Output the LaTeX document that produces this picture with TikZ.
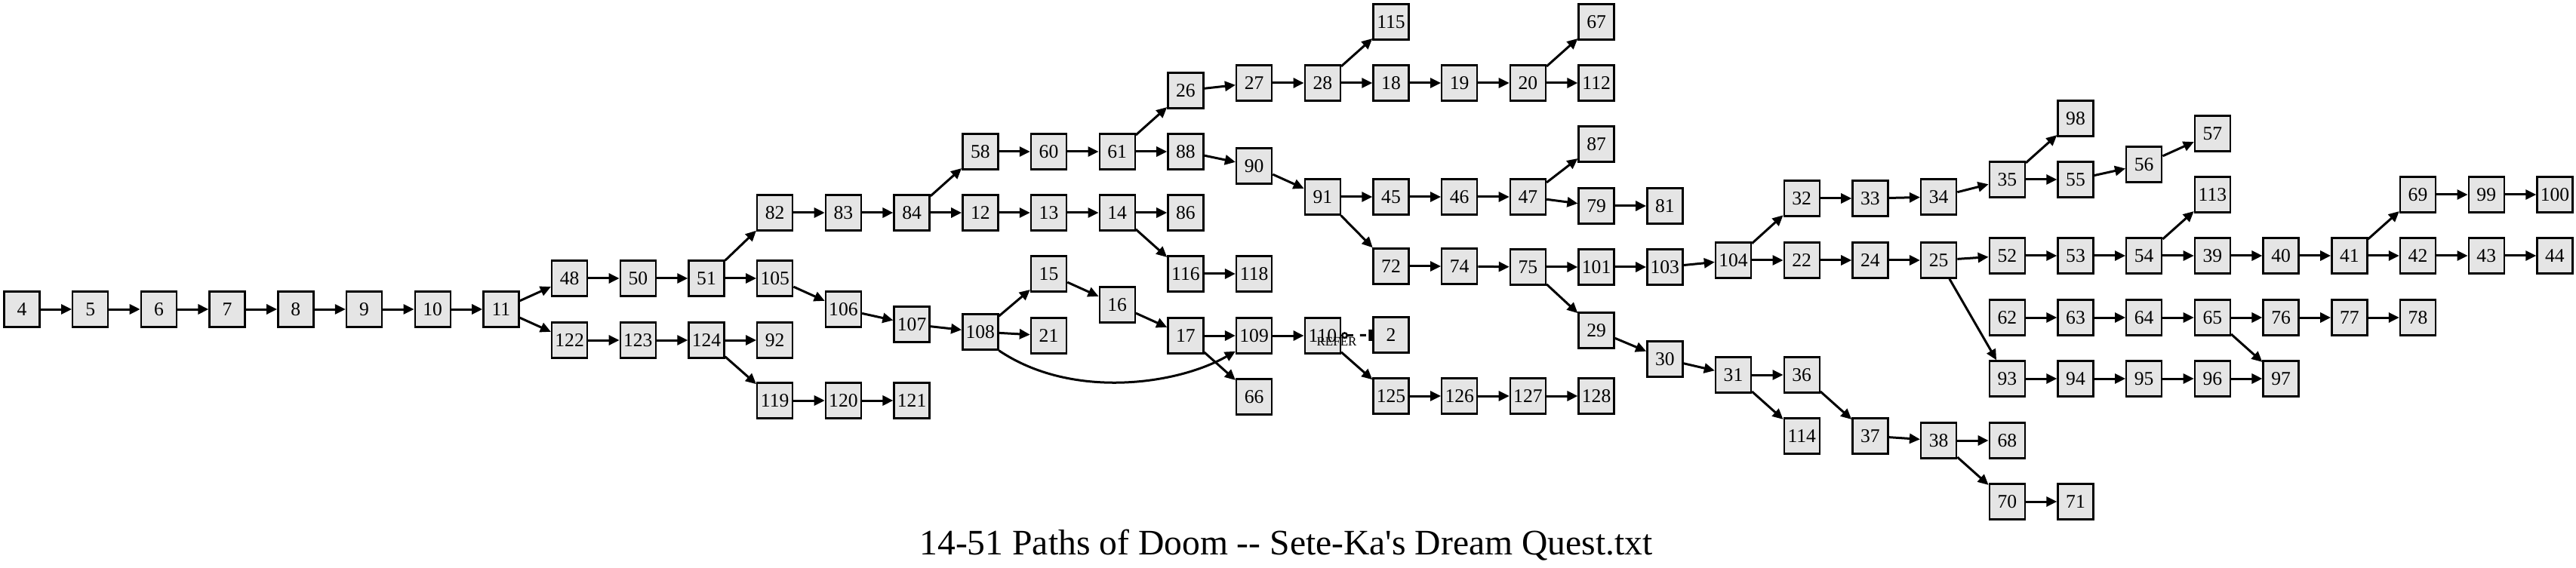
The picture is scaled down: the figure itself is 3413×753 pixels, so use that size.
\documentclass[tikz,border=0pt]{standalone}
\usepackage{fontspec}
\setmainfont{Liberation Serif}
\newfontfamily\plainserif{Liberation Serif}[Ligatures=TeXOff]
\usetikzlibrary{arrows.meta}
\definecolor{nodefill}{HTML}{E5E5E5}
\tikzset{
  box/.style={draw=black, line width=1.2pt, fill=nodefill, minimum width=23.5pt, minimum height=23.5pt, inner sep=0pt, font=\fontsize{12.8}{14}\selectfont},
  edge/.style={line width=1.5pt, -{Triangle[length=7pt,width=6.5pt]}},
  referedge/.style={line width=1.5pt, dash pattern=on 4pt off 4.5pt, {Circle[open,length=4.5pt,width=4.5pt,line width=1.2pt]}-{Rectangle[length=2.5pt,width=7.5pt]}},
  reflabel/.style={inner sep=0pt, font=\fontsize{8.5}{9}\selectfont},
  titletext/.style={inner sep=0pt, font=\plainserif\fontsize{23.8}{27}\selectfont}
}
\newcommand{\mkbox}[3]{\node[box] (n#1) at ({29+90.7*#2},#3) {#1};}
\begin{document}
\begin{tikzpicture}[x=0.5pt,y=-0.5pt]
\useasboundingbox (0,0) rectangle (3413,753);
% rank 0-7
\mkbox{4}{0}{410}\mkbox{5}{1}{410}\mkbox{6}{2}{410}\mkbox{7}{3}{410}
\mkbox{8}{4}{410}\mkbox{9}{5}{410}\mkbox{10}{6}{410}\mkbox{11}{7}{410}
\mkbox{48}{8}{369}\mkbox{122}{8}{451}
\mkbox{50}{9}{369}\mkbox{123}{9}{451}
\mkbox{51}{10}{369}\mkbox{124}{10}{451}
\mkbox{82}{11}{282}\mkbox{105}{11}{369}\mkbox{92}{11}{451}\mkbox{119}{11}{531}
\mkbox{83}{12}{282}\mkbox{106}{12}{410}\mkbox{120}{12}{531}
\mkbox{84}{13}{282}\mkbox{107}{13}{430}\mkbox{121}{13}{531}
\mkbox{58}{14}{201}\mkbox{12}{14}{282}\mkbox{108}{14}{440}
\mkbox{60}{15}{201}\mkbox{13}{15}{282}\mkbox{15}{15}{363}\mkbox{21}{15}{445}
\mkbox{61}{16}{201}\mkbox{14}{16}{282}\mkbox{16}{16}{404}
\mkbox{26}{17}{120}\mkbox{88}{17}{201}\mkbox{86}{17}{282}\mkbox{116}{17}{363}\mkbox{17}{17}{445}
\mkbox{27}{18}{110}\mkbox{90}{18}{220}\mkbox{118}{18}{363}\mkbox{109}{18}{445}\mkbox{66}{18}{526}
\mkbox{28}{19}{110}\mkbox{91}{19}{261}\mkbox{110}{19}{445}
\mkbox{115}{20}{29}\mkbox{18}{20}{110}\mkbox{45}{20}{261}\mkbox{72}{20}{353}\mkbox{2}{20}{444}\mkbox{125}{20}{525}
\mkbox{19}{21}{110}\mkbox{46}{21}{261}\mkbox{74}{21}{353}\mkbox{126}{21}{525}
\mkbox{20}{22}{110}\mkbox{47}{22}{261}\mkbox{75}{22}{354}\mkbox{127}{22}{525}
\mkbox{67}{23}{29}\mkbox{112}{23}{110}\mkbox{87}{23}{191}\mkbox{79}{23}{273}\mkbox{101}{23}{354}\mkbox{29}{23}{438}\mkbox{128}{23}{525}
\mkbox{81}{24}{273}\mkbox{103}{24}{354}\mkbox{30}{24}{476}
\mkbox{104}{25}{345}\mkbox{31}{25}{497}
\mkbox{32}{26}{263}\mkbox{22}{26}{345}\mkbox{36}{26}{497}\mkbox{114}{26}{578}
\mkbox{33}{27}{263}\mkbox{24}{27}{345}\mkbox{37}{27}{578}
\mkbox{34}{28}{261}\mkbox{25}{28}{345}\mkbox{38}{28}{584}
\mkbox{35}{29}{238}\mkbox{52}{29}{339}\mkbox{62}{29}{421}\mkbox{93}{29}{502}\mkbox{68}{29}{584}\mkbox{70}{29}{665}
\mkbox{98}{30}{157}\mkbox{55}{30}{238}\mkbox{53}{30}{339}\mkbox{63}{30}{421}\mkbox{94}{30}{502}\mkbox{71}{30}{665}
\mkbox{56}{31}{218}\mkbox{54}{31}{339}\mkbox{64}{31}{421}\mkbox{95}{31}{502}
\mkbox{57}{32}{177}\mkbox{113}{32}{258}\mkbox{39}{32}{339}\mkbox{65}{32}{421}\mkbox{96}{32}{502}
\mkbox{40}{33}{339}\mkbox{76}{33}{421}\mkbox{97}{33}{502}
\mkbox{41}{34}{339}\mkbox{77}{34}{421}
\mkbox{69}{35}{258}\mkbox{42}{35}{339}\mkbox{78}{35}{421}
\mkbox{99}{36}{258}\mkbox{43}{36}{339}
\mkbox{100}{37}{258}\mkbox{44}{37}{339}
% edges
\foreach \a/\b in {4/5,5/6,6/7,7/8,8/9,9/10,10/11,11/48,11/122,48/50,50/51,51/82,51/105,82/83,83/84,84/58,84/12,58/60,60/61,61/26,61/88,26/27,27/28,28/115,28/18,18/19,19/20,20/67,20/112,88/90,90/91,91/45,91/72,45/46,46/47,47/87,47/79,79/81,72/74,74/75,75/101,75/29,101/103,103/104,104/32,104/22,32/33,33/34,34/35,35/98,35/55,55/56,56/57,22/24,24/25,25/52,25/93,52/53,53/54,54/113,54/39,39/40,40/41,41/69,41/42,69/99,99/100,42/43,43/44,62/63,63/64,64/65,65/76,65/97,76/77,77/78,93/94,94/95,95/96,96/97,29/30,30/31,31/36,31/114,36/37,37/38,38/68,38/70,70/71,12/13,13/14,14/86,14/116,116/118,105/106,106/107,107/108,108/15,108/21,15/16,16/17,17/109,17/66,109/110,110/125,125/126,126/127,127/128,122/123,123/124,124/92,124/119,119/120,120/121}
  \draw[edge] (n\a) -- (n\b);
\draw[edge] (n108.south east) .. controls (1420,530) and (1560,510) .. (n109.-140);
\draw[referedge] (n110) -- (n2);
\node[reflabel, anchor=base] (lref) at (1771,458) {REFER};
\node[titletext, anchor=base] (title) at (1704,735) {14-51 Paths of Doom -{}- Sete-Ka's Dream Quest.txt};
\end{tikzpicture}
\end{document}
